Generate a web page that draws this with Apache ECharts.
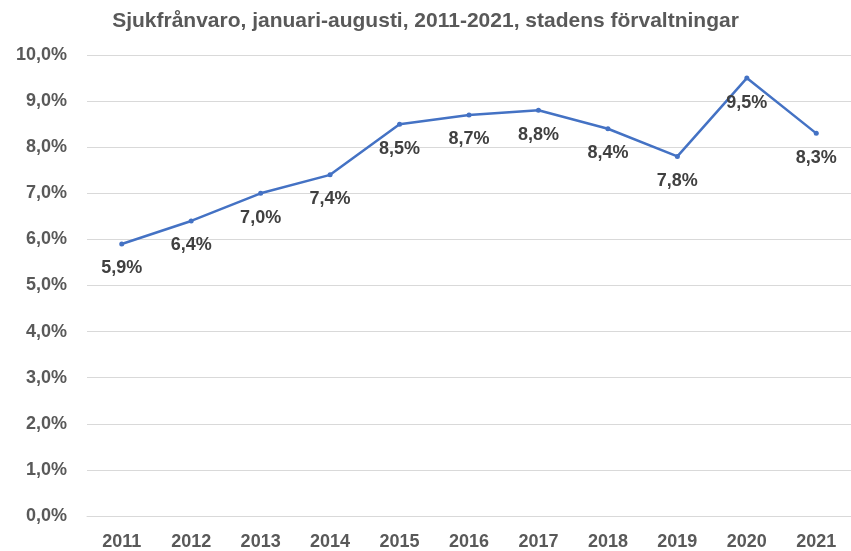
<!DOCTYPE html>
<html><head><meta charset="utf-8">
<script src="https://cdn.jsdelivr.net/npm/echarts@6/dist/echarts.min.js"></script>
<style>html,body{margin:0;padding:0;background:#fff}#c{width:851px;height:551px}</style>
</head><body><div id="c"></div>
<script>
const title = 'Sjukfrånvaro, januari-augusti, 2011-2021, stadens förvaltningar';
const years = ['2011','2012','2013','2014','2015','2016','2017','2018','2019','2020','2021'];
const values = [5.9, 6.4, 7.0, 7.4, 8.5, 8.7, 8.8, 8.4, 7.8, 9.5, 8.3];
const fmt = v => v.toFixed(1).replace('.', ',') + '%';
const font = '"Liberation Sans", Arial, sans-serif';
const chart = echarts.init(document.getElementById('c'), null, {renderer:'canvas'});
chart.setOption({
  animation:false,
  title:{text:title,left:'center',top:6,textStyle:{fontFamily:font,fontWeight:'bold',fontSize:21,color:'#595959'}},
  grid:{left:87,right:-7,top:55,bottom:34,containLabel:false},
  xAxis:{type:'category',data:years,boundaryGap:true,
    axisLine:{lineStyle:{color:'#d9d9d9',width:1}},axisTick:{show:false},
    axisLabel:{fontFamily:font,fontWeight:'bold',fontSize:18,color:'#595959',margin:17}},
  yAxis:{type:'value',min:0,max:10,interval:1,
    axisLine:{show:false},axisTick:{show:false},
    splitLine:{lineStyle:{color:'#d9d9d9',width:1}},
    axisLabel:{fontFamily:font,fontWeight:'bold',fontSize:18,color:'#595959',margin:20,formatter:v=>fmt(v)}},
  series:[{type:'line',data:values,symbol:'circle',symbolSize:5,
    lineStyle:{color:'#4472C4',width:2.5},itemStyle:{color:'#4472C4'},
    label:{show:true,position:'bottom',distance:13,fontFamily:font,fontWeight:'bold',fontSize:18,color:'#404040',formatter:p=>fmt(p.value)}}]
});
</script></body></html>
